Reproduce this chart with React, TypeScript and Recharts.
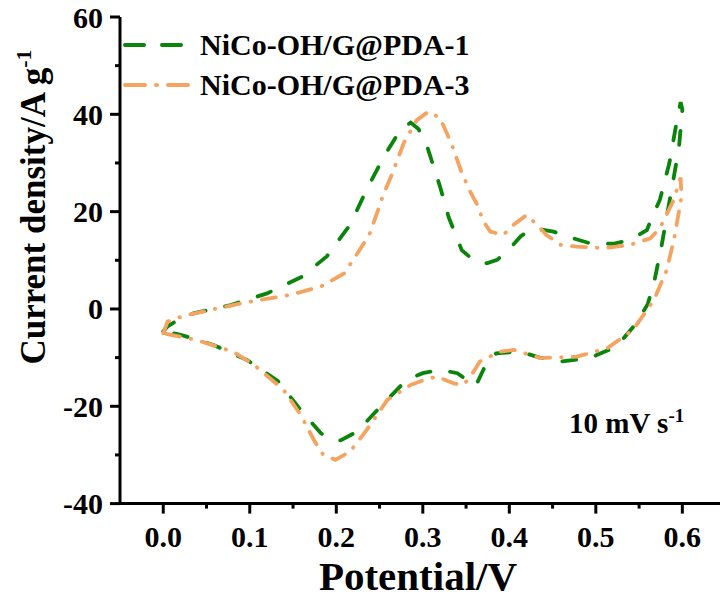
import React from 'react';
import { LineChart, Line, XAxis, YAxis } from 'recharts';

const FONT = '"Liberation Serif", "Times New Roman", Times, serif';
const GREEN = '#0a840a';
const ORANGE = '#F4A460';

// axis ticks
const xTicks = [0, 0.05, 0.1, 0.15, 0.2, 0.25, 0.3, 0.35, 0.4, 0.45, 0.5, 0.55, 0.6];
const xTickLabels = ['0.0', '', '0.1', '', '0.2', '', '0.3', '', '0.4', '', '0.5', '', '0.6'];
const yTicks = [-40, -30, -20, -10, 0, 10, 20, 30, 40, 50, 60];
const yTickLabels = ['-40', '', '-20', '', '0', '', '20', '', '40', '', '60'];

// NiCo-OH/G@PDA-1 (potential V, current A/g), anodic then cathodic sweep
const pda1Potential = [
  0.0, 0.005, 0.012, 0.035, 0.078, 0.12, 0.16, 0.189, 0.216, 0.235, 0.255, 0.274, 0.286, 0.295,
  0.305, 0.32, 0.33, 0.345, 0.36, 0.374, 0.386, 0.4, 0.413, 0.42, 0.43, 0.451, 0.465, 0.493,
  0.52, 0.54, 0.559, 0.567, 0.574, 0.585, 0.593, 0.598, 0.6, 0.596, 0.589, 0.582, 0.576, 0.568,
  0.56, 0.547, 0.524, 0.493, 0.459, 0.435, 0.413, 0.385, 0.375, 0.37, 0.362, 0.356, 0.35, 0.34,
  0.32, 0.3, 0.281, 0.251, 0.224, 0.205, 0.195, 0.182, 0.159, 0.133, 0.097, 0.058, 0.02, 0.0,
];
const pda1Current = [
  -4.6, -3.6, -2.8, -0.9, 0.8, 3.2, 6.6, 10.8, 17.3, 24.5, 31.3, 36.8, 38.3, 37.0,
  33.4, 25.1, 18.8, 12.1, 9.8, 9.4, 10.1, 12.3, 14.9, 15.8, 16.5, 15.9, 15.0, 13.5,
  13.4, 14.2, 16.2, 19.7, 22.4, 30, 38, 42.5, 41, 33, 26, 19, 13, 6,
  1, -2.9, -7.7, -10.1, -10.8, -10.0, -8.8, -9.1, -10.5, -12.5, -15.5, -15.6, -14.5, -13.2,
  -12.5, -13.2, -14.6, -20.1, -25.2, -27.0, -26.9, -25.5, -20.8, -14.9, -10.5, -7.4, -5.3, -4.6,
];

// NiCo-OH/G@PDA-3
const pda3Potential = [
  0.0, 0.005, 0.024, 0.062, 0.1, 0.147, 0.182, 0.209, 0.227, 0.239, 0.255, 0.264, 0.278, 0.293,
  0.307, 0.32, 0.333, 0.345, 0.355, 0.363, 0.37, 0.378, 0.393, 0.405, 0.42, 0.432, 0.443, 0.459,
  0.478, 0.509, 0.54, 0.563, 0.574, 0.59, 0.598, 0.599, 0.591, 0.582, 0.567, 0.543, 0.513, 0.478,
  0.436, 0.405, 0.389, 0.366, 0.355, 0.347, 0.336, 0.316, 0.301, 0.286, 0.259, 0.235, 0.216, 0.199,
  0.185, 0.174, 0.159, 0.139, 0.105, 0.081, 0.039, 0.0,
];
const pda3Current = [
  -5.0, -2.6, -1.4, 0.1, 1.5, 2.9, 4.6, 7.3, 12.1, 15.6, 23.8, 27.5, 34.1, 38.8,
  40.6, 39.2, 34, 28, 24, 21.4, 18, 15.9, 15.2, 17.3, 19.3, 17.3, 15.2, 13.2,
  12.8, 12.5, 13.2, 14.5, 16.6, 22.4, 27, 23, 14.9, 8, 1.8, -4.3, -8.1, -9.8,
  -10.1, -8.4, -8.8, -10.8, -13.9, -15.6, -15.3, -13.9, -14.6, -15.6, -18.7, -24.9, -29.3, -31.0,
  -30.0, -26.9, -21.8, -16.6, -11.5, -8.8, -6.4, -5.0,
];

const pda1Data = pda1Potential.map((x, i) => ({ x, y: pda1Current[i] }));
const pda3Data = pda3Potential.map((x, i) => ({ x, y: pda3Current[i] }));

const X_TICK_SIZE = 10;
const X_TICK_MARGIN = 12;
const Y_TICK_SIZE = 10;
const Y_TICK_MARGIN = 8;

const XTick = (props: any) => {
  const { x, y, index } = props;
  const axisY = y - X_TICK_SIZE - X_TICK_MARGIN;
  const label = xTickLabels[index] ?? '';
  const major = label !== '';
  return (
    <g>
      <line x1={x} x2={x} y1={axisY} y2={axisY + (major ? 10 : 5)} stroke="#000" strokeWidth={3} />
      {major && (
        <text x={x} y={axisY + 43} textAnchor="middle" fontFamily={FONT} fontWeight="bold" fontSize={30} fill="#000">
          {label}
        </text>
      )}
    </g>
  );
};

const YTick = (props: any) => {
  const { x, y, index } = props;
  const axisX = x + Y_TICK_SIZE + Y_TICK_MARGIN;
  const label = yTickLabels[index] ?? '';
  const major = label !== '';
  return (
    <g>
      <line x1={axisX} x2={axisX - (major ? 10 : 5)} y1={y} y2={y} stroke="#000" strokeWidth={3} />
      {major && (
        <text x={axisX - 17} y={y} dy="0.35em" textAnchor="end" fontFamily={FONT} fontWeight="bold" fontSize={30} fill="#000">
          {label}
        </text>
      )}
    </g>
  );
};

const XTitle = () => (
  <text x={418} y={590} textAnchor="middle" fontFamily={FONT} fontWeight="bold" fontSize={41} fill="#000">
    Potential/V
  </text>
);

const YTitle = () => (
  <text transform="translate(45,207) rotate(-90)" textAnchor="middle" fontFamily={FONT} fontWeight="bold" fontSize={35} fill="#000">
    Current density/A g<tspan dy={-14} fontSize={22}>-1</tspan>
  </text>
);

export default function App() {
  return (
    <div style={{ position: 'absolute', left: 0, top: 0, width: 720, height: 598, overflow: 'hidden', background: '#fff' }}>
      <LineChart width={740} height={598} margin={{ top: 17, right: 14.4, left: 60, bottom: 34.4 }}>
        <XAxis
          xAxisId="b"
          dataKey="x"
          type="number"
          orientation="bottom"
          domain={[-0.05, 0.65]}
          allowDataOverflow
          ticks={xTicks}
          interval={0}
          tick={<XTick />}
          tickLine={false}
          tickSize={X_TICK_SIZE}
          tickMargin={X_TICK_MARGIN}
          axisLine={{ stroke: '#000', strokeWidth: 3 }}
          height={60}
          label={<XTitle />}
        />
        <XAxis
          xAxisId="t"
          type="number"
          orientation="top"
          domain={[-0.05, 0.65]}
          allowDataOverflow
          tick={false}
          tickLine={false}
          axisLine={{ stroke: '#000', strokeWidth: 3 }}
          height={0}
        />
        <YAxis
          yAxisId="l"
          type="number"
          domain={[-40, 60]}
          allowDataOverflow
          ticks={yTicks}
          interval={0}
          tick={<YTick />}
          tickLine={false}
          tickSize={Y_TICK_SIZE}
          tickMargin={Y_TICK_MARGIN}
          axisLine={{ stroke: '#000', strokeWidth: 3 }}
          width={60}
          label={<YTitle />}
        />
        <YAxis
          yAxisId="r"
          type="number"
          orientation="right"
          domain={[-40, 60]}
          allowDataOverflow
          tick={false}
          tickLine={false}
          axisLine={{ stroke: '#000', strokeWidth: 3 }}
          width={0}
        />
        <Line
          xAxisId="b"
          yAxisId="l"
          data={pda1Data}
          dataKey="y"
          name="NiCo-OH/G@PDA-1"
          type="linear"
          stroke={GREEN}
          strokeWidth={3.8}
          strokeDasharray="14 20"
          strokeLinecap="round"
          dot={false}
          isAnimationActive={false}
        />
        <Line
          xAxisId="b"
          yAxisId="l"
          data={pda3Data}
          dataKey="y"
          name="NiCo-OH/G@PDA-3"
          type="linear"
          stroke={ORANGE}
          strokeWidth={3.8}
          strokeDasharray="14 11 0.5 11"
          strokeLinecap="round"
          dot={false}
          isAnimationActive={false}
        />
      </LineChart>
      <svg width={720} height={598} style={{ position: 'absolute', left: 0, top: 0, pointerEvents: 'none' }}>
        <line x1={125} x2={182} y1={45} y2={45} stroke={GREEN} strokeWidth={4} strokeDasharray="19 18" strokeLinecap="round" />
        <text x={200} y={55} fontFamily={FONT} fontWeight="bold" fontSize={30} fill="#000">NiCo-OH/G@PDA-1</text>
        <line x1={125} x2={192} y1={85} y2={85} stroke={ORANGE} strokeWidth={4} strokeDasharray="20 11 1 11" strokeLinecap="round" />
        <text x={200} y={95} fontFamily={FONT} fontWeight="bold" fontSize={30} fill="#000">NiCo-OH/G@PDA-3</text>
        <text x={569} y={433} fontFamily={FONT} fontWeight="bold" fontSize={29} fill="#000">
          10 mV s<tspan dy={-11} fontSize={19}>-1</tspan>
        </text>
      </svg>
    </div>
  );
}
